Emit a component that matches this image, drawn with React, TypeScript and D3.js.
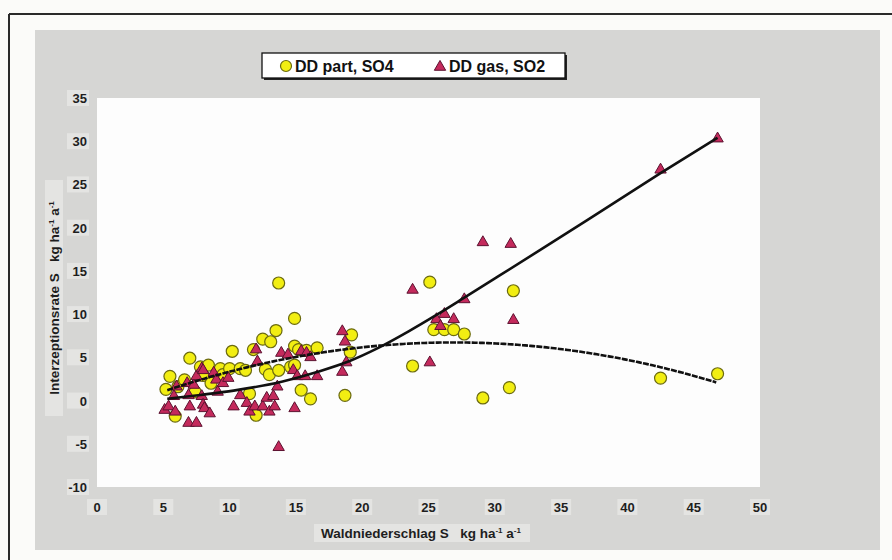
import React from "react";
import * as d3 from "d3";

// Dry deposition, particulate sulphate (SO4): throughfall S vs. interception rate
const partX = [5.2, 5.5, 5.9, 6.1, 6.6, 7.0, 7.4, 7.8, 8.0, 8.4, 8.6, 9.3, 9.5, 10.0, 10.2, 10.8, 11.2, 11.5, 11.8, 12.0, 12.5, 12.7, 13.0, 13.1, 13.5, 13.7, 13.7, 14.6, 14.9, 14.9, 14.9, 15.2, 15.4, 15.8, 16.1, 16.6, 18.7, 19.1, 19.2, 23.8, 25.1, 25.4, 26.2, 26.9, 27.7, 29.1, 31.1, 31.4, 42.5, 46.8];
const partY = [1.3, 2.8, -1.8, 1.6, 2.4, 4.9, 1.0, 3.9, 2.9, 4.1, 2.0, 3.7, 3.0, 3.7, 5.7, 3.7, 3.5, 0.8, 5.9, -1.7, 7.1, 3.6, 3.0, 6.8, 8.1, 13.6, 3.5, 3.9, 4.1, 6.3, 9.5, 5.9, 1.2, 5.8, 0.2, 6.1, 0.6, 5.6, 7.6, 4.0, 13.7, 8.2, 8.2, 8.2, 7.7, 0.3, 1.5, 12.7, 2.6, 3.1];

// Dry deposition, gaseous sulphur dioxide (SO2)
const gasX = [5.1, 5.4, 5.8, 5.9, 6.0, 6.8, 6.9, 6.9, 7.0, 7.3, 7.5, 7.5, 7.9, 7.9, 8.0, 8.0, 8.1, 8.5, 8.8, 9.0, 9.1, 9.5, 9.9, 10.3, 10.8, 11.3, 11.5, 11.9, 12.0, 12.1, 12.5, 12.8, 13.0, 13.3, 13.4, 13.6, 13.7, 13.9, 14.4, 14.8, 14.9, 15.1, 15.4, 15.7, 15.8, 16.1, 16.6, 18.5, 18.7, 18.8, 18.5, 23.8, 25.1, 25.6, 25.9, 26.2, 26.9, 27.7, 29.1, 31.2, 31.4, 42.5, 46.8];
const gasY = [-1.1, -0.7, 0.5, -1.3, 1.6, 2.0, 0.6, -2.6, -0.7, 1.8, 2.8, -2.6, 3.7, 0.5, 3.5, -0.5, -0.9, -1.5, 3.2, 2.4, 1.0, 2.0, 2.6, -0.7, 0.6, -0.3, -1.3, -0.7, 5.9, 4.5, -0.7, 0.3, -1.3, 0.5, -0.7, 1.6, -5.4, 5.5, 5.3, 3.5, -0.9, 2.8, 5.7, 2.8, 5.5, 5.0, 2.8, 8.0, 6.8, 4.4, 3.3, 12.8, 4.4, 9.4, 8.6, 10.0, 9.4, 11.7, 18.3, 18.1, 9.3, 26.7, 30.3];

// Trend line for SO4: quadratic, coefficients in ascending powers of x
const partTrend = [-1.842, 0.63626, -0.011816];
const partTrendRange = [5.3, 46.8];

// Trend line for SO2
const gasTrendX = [5.3, 7.8, 10.3, 14, 16.6, 19.1, 21.1, 23.5, 25.6, 27.7, 30.4, 33.4, 37, 42.5, 46.8];
const gasTrendY = [0.2, 0.65, 1.15, 2.2, 3.3, 4.6, 6.0, 8.0, 9.9, 11.9, 14.5, 17.4, 20.9, 26.3, 30.4];

const xTicks = [0, 5, 10, 15, 20, 25, 30, 35, 40, 45, 50];
const yTicks = [-10, -5, 0, 5, 10, 15, 20, 25, 30, 35];

const FONT = "'Liberation Sans', Arial, Helvetica, sans-serif";

export default function App() {
  const W = 892;
  const H = 560;
  const x = d3.scaleLinear().domain([0, 50]).range([97, 760]);
  const y = d3.scaleLinear().domain([-10, 35]).range([487, 98]);

  const poly = (c: number[], v: number) =>
    c.reduce((s, k, i) => s + k * Math.pow(v, i), 0);
  const xs = d3.range(partTrendRange[0], partTrendRange[1] + 1e-6, 0.2);
  const partPath =
    d3
      .line<number>()
      .x((v) => x(v))
      .y((v) => y(poly(partTrend, v)))(xs) || "";
  const gasPath =
    d3
      .line<number>()
      .x((v) => x(v))
      .y((_, i) => y(gasTrendY[i]))
      .curve(d3.curveMonotoneX)(gasTrendX) || "";

  const tri = d3.symbol(d3.symbolTriangle, 56)() || "";

  const circleFill = "#f2ee12";
  const circleStroke = "#6b6a10";
  const triFill = "#c42a5c";
  const triStroke = "#5c1230";
  const ink = "#1e1e1e";
  const patch = "#e4e4e2";

  return (
    <svg
      width={W}
      height={H}
      style={{ position: "absolute", left: 0, top: 0, background: "#fbfbf9" }}
      fontFamily={FONT}
    >
      {/* frame lines */}
      <line x1={9} y1={14} x2={W} y2={14} stroke="#2a2a2a" strokeWidth={2} />
      <line x1={9} y1={14} x2={9} y2={H} stroke="#2a2a2a" strokeWidth={2} />

      {/* chart panel */}
      <rect x={35} y={30} width={845} height={520} fill="#d6d6d4" />
      <rect x={x(0)} y={y(35)} width={x(50) - x(0)} height={y(-10) - y(35)} fill="#fdfdfd" />

      {/* x tick labels */}
      {xTicks.map((t) => (
        <g key={"x" + t}>
          <rect x={x(t) - 10} y={499} width={20} height={16} fill={patch} />
          <text x={x(t)} y={512} textAnchor="middle" fontSize={13} fontWeight="bold" fill={ink}>
            {t}
          </text>
        </g>
      ))}

      {/* y tick labels */}
      {yTicks.map((t) => (
        <g key={"y" + t}>
          <rect x={67} y={y(t) - 8} width={22} height={16} fill={patch} />
          <text x={87} y={y(t) + 5} textAnchor="end" fontSize={13} fontWeight="bold" fill={ink}>
            {t}
          </text>
        </g>
      ))}

      {/* axis titles */}
      <rect x={314} y={524} width={216} height={18} fill={patch} />
      <text x={421} y={538} textAnchor="middle" fontSize={13.5} fontWeight="bold" fill={ink}>
        Waldniederschlag S{"\u00a0\u00a0\u00a0"}kg ha
        <tspan dy={-5} fontSize={8}>-1</tspan>
        <tspan dy={5}> a</tspan>
        <tspan dy={-5} fontSize={8}>-1</tspan>
      </text>

      <g transform={`translate(54,298) rotate(-90)`}>
        <rect x={-118} y={-9} width={236} height={18} fill={patch} />
        <text x={0} y={5} textAnchor="middle" fontSize={13.5} fontWeight="bold" fill={ink}>
          Interzeptionsrate S{"\u00a0\u00a0\u00a0"}kg ha
          <tspan dy={-5} fontSize={8}>-1</tspan>
          <tspan dy={5}> a</tspan>
          <tspan dy={-5} fontSize={8}>-1</tspan>
        </text>
      </g>

      {/* SO4 particulate points */}
      {partX.map((v, i) => (
        <circle
          key={"p" + i}
          cx={x(v)}
          cy={y(partY[i])}
          r={6}
          fill={circleFill}
          stroke={circleStroke}
          strokeWidth={1.2}
        />
      ))}

      {/* SO2 gaseous points */}
      {gasX.map((v, i) => (
        <path
          key={"g" + i}
          d={tri}
          transform={`translate(${x(v)},${y(gasY[i])})`}
          fill={triFill}
          stroke={triStroke}
          strokeWidth={1}
        />
      ))}

      {/* trend lines */}
      <path d={gasPath} fill="none" stroke="#111" strokeWidth={2.6} />
      <path d={partPath} fill="none" stroke="#111" strokeWidth={2.6} strokeDasharray="6 1.2" />

      {/* legend */}
      <rect x={264} y={55} width={303} height={25} fill="#222" />
      <rect x={262} y={53} width={303} height={25} fill="#ffffff" stroke="#111" strokeWidth={1.3} />
      <circle cx={286} cy={66} r={5.5} fill={circleFill} stroke={circleStroke} strokeWidth={1.2} />
      <text x={295} y={72} fontSize={16} fontWeight="bold" fill="#111">
        DD part, SO4
      </text>
      <path d={tri} transform="translate(440,67)" fill={triFill} stroke={triStroke} strokeWidth={1} />
      <text x={449} y={72} fontSize={16} fontWeight="bold" fill="#111">
        DD gas, SO2
      </text>
    </svg>
  );
}
